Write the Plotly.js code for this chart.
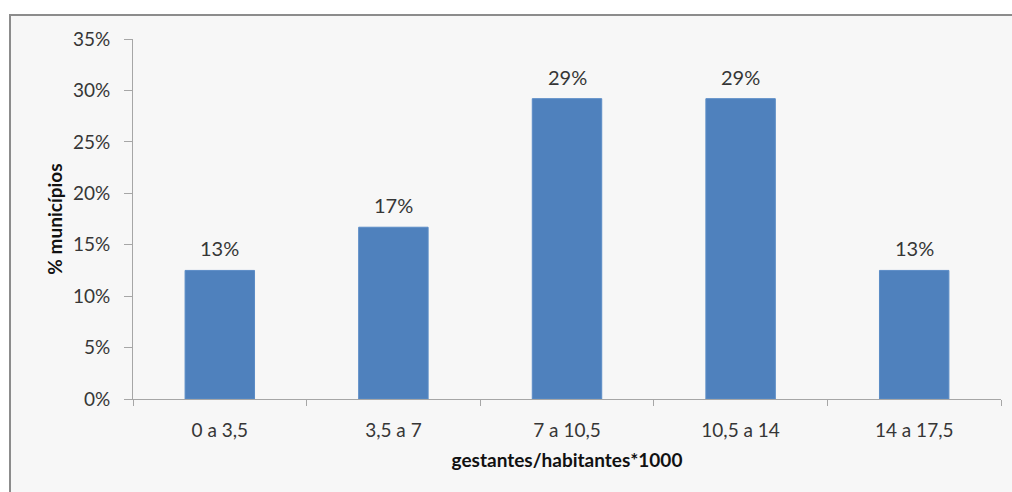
<!DOCTYPE html>
<html>
<head>
<meta charset="utf-8">
<script src="https://cdn.plot.ly/plotly-3.0.1.min.js"></script>
<style>
  html, body { margin: 0; padding: 0; background: #ffffff; width: 1012px; height: 492px; overflow: hidden; }
  #frame { position: absolute; left: 9px; top: 14px; width: 1020px; height: 500px; border: 2px solid #8c8c8c; background: #f7f7f7; box-sizing: border-box; }
  #chart { position: absolute; left: 0; top: 0; width: 1012px; height: 492px; }
</style>
</head>
<body>
<div id="frame"></div>
<div id="chart"></div>
<script>
const categories = ["0 a 3,5", "3,5 a 7", "7 a 10,5", "10,5 a 14", "14 a 17,5"];
const values = [12.5, 16.7, 29.2, 29.2, 12.5];
const valueLabels = ["13%", "17%", "29%", "29%", "13%"];
const yTitle = "% municípios";
const xTitle = "gestantes/habitantes*1000";

const fontFamily = "Lato, 'Open Sans', 'DejaVu Sans', sans-serif";
const textColor = "#363636";

const trace = {
  type: "bar",
  x: categories,
  y: values,
  marker: { color: "#4f81bd", line: { color: "#5b8cc6", width: 1 } },
  hoverinfo: "none"
};

const annotations = categories.map((c, i) => ({
  x: c, y: values[i], xref: "x", yref: "y",
  text: valueLabels[i], showarrow: false,
  yanchor: "bottom", yshift: 8,
  font: { family: fontFamily, size: 20, color: textColor }
}));

const layout = {
  width: 1012, height: 492,
  margin: { l: 133, r: 11, t: 39, b: 93 },
  paper_bgcolor: "rgba(0,0,0,0)",
  plot_bgcolor: "rgba(0,0,0,0)",
  bargap: 0.6,
  showlegend: false,
  font: { family: fontFamily, size: 20, color: textColor },
  xaxis: {
    type: "category",
    showline: true, linecolor: "#a6a6a6", linewidth: 1,
    ticks: "outside", tickson: "boundaries", ticklen: 6, tickcolor: "#a6a6a6",
    showgrid: false, zeroline: false,
    tickfont: { family: fontFamily, size: 19, color: textColor },
    ticklabelstandoff: 14,
    title: { text: xTitle, font: { family: fontFamily, size: 19, color: "#111111", weight: "bold" }, standoff: 13 }
  },
  yaxis: {
    range: [0, 35], dtick: 5, ticksuffix: "%",
    showline: true, linecolor: "#a6a6a6", linewidth: 1,
    ticks: "outside", ticklen: 8, tickcolor: "#a6a6a6",
    showgrid: false, zeroline: false,
    tickfont: { family: fontFamily, size: 19, color: textColor },
    ticklabelstandoff: 10,
    title: { text: yTitle, font: { family: fontFamily, size: 19, color: "#111111", weight: "bold" }, standoff: 5 }
  },
  annotations: annotations
};

Plotly.newPlot("chart", [trace], layout, { staticPlot: true, displayModeBar: false });
</script>
</body>
</html>
